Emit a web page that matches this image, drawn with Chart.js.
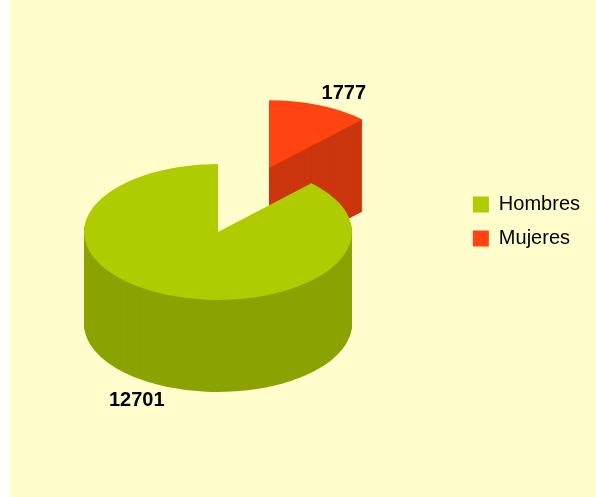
<!DOCTYPE html>
<html lang="es">
<head>
  <meta charset="UTF-8" />
  <title>Hombres y Mujeres</title>
  <script src="https://cdn.jsdelivr.net/npm/chart.js"></script>
  <style>
    body { margin: 0; background: #fff; }
    .grafico { width: 596px; height: 497px; }
  </style>
</head>
<body>
  <div class="grafico"><canvas id="graficoTarta"></canvas></div>

  <script>
    const categorias = ["Hombres", "Mujeres"];
    const valores = [12701, 1777];
    const colores = ["#aecc00", "#ff4411"];
    const separacion = [0, 136]; // cuánto se aparta cada porción

    const inclinacion = 0.507; // aplastado vertical de la tarta
    const grosor = 92;         // altura del lateral
    const centro = { x: 218, y: 232 };

    // Mujeres empieza arriba y va en sentido horario, Hombres a continuación
    const total = valores.reduce((a, b) => a + b, 0);
    const giro = 360 * valores[1] / total;

    // traslación para dibujar una porción (con su separación) en perspectiva
    function desplazamiento(arc, i) {
      const h = (arc.startAngle + arc.endAngle) / 2;
      const ex = separacion[i] * Math.cos(h);
      const ey = separacion[i] * Math.sin(h);
      return {
        x: centro.x + ex - arc.x,
        y: centro.y + inclinacion * (ey - arc.y)
      };
    }

    const tarta3d = {
      id: 'tarta3d',
      beforeDraw(chart) {
        const ctx = chart.ctx;
        ctx.save();
        ctx.fillStyle = '#fffdcc';
        ctx.fillRect(10, 0, chart.width - 10, chart.height);
        ctx.restore();
      },
      beforeDatasetsDraw(chart) {
        const ctx = chart.ctx;
        const arcs = chart.getDatasetMeta(0).data;
        for (const i of [1, 0]) {
          const arc = arcs[i];
          const d = desplazamiento(arc, i);
          ctx.save();
          ctx.filter = 'brightness(0.8)';
          for (let z = grosor; z > 0; z--) {
            ctx.save();
            ctx.translate(d.x, d.y + z);
            ctx.scale(1, inclinacion);
            arc.draw(ctx);
            ctx.restore();
          }
          ctx.filter = 'none';
          ctx.translate(d.x, d.y);
          ctx.scale(1, inclinacion);
          arc.draw(ctx);
          ctx.restore();
        }
        return false;
      },
      afterDraw(chart) {
        const ctx = chart.ctx;
        const arcs = chart.getDatasetMeta(0).data;
        ctx.save();
        ctx.font = 'bold 20px "Liberation Sans", Arial, sans-serif';
        ctx.fillStyle = '#000';
        arcs.forEach((arc, i) => {
          const d = desplazamiento(arc, i);
          const h = (arc.startAngle + arc.endAngle) / 2;
          const c = Math.cos(h), s = Math.sin(h);
          const x = d.x + arc.x + arc.outerRadius * c;
          let y = d.y + inclinacion * (arc.y + arc.outerRadius * s);
          if (s > 0) y += grosor;
          ctx.textAlign = c >= 0 ? 'left' : 'right';
          ctx.textBaseline = s >= 0 ? 'top' : 'alphabetic';
          ctx.fillText(String(valores[i]), x + (c >= 0 ? 2 : -3), y + (s >= 0 ? 4 : -6));
        });
        ctx.restore();
      }
    };

    new Chart(document.getElementById('graficoTarta'), {
      type: 'pie',
      data: {
        labels: categorias,
        datasets: [{
          data: valores,
          backgroundColor: colores,
          borderWidth: 0,
          hoverOffset: 0,
          clip: false
        }]
      },
      options: {
        responsive: true,
        maintainAspectRatio: false,
        animation: false,
        radius: 134,
        rotation: giro,
        layout: { padding: { right: 6, bottom: 54 } },
        plugins: {
          legend: {
            position: 'right',
            labels: {
              boxWidth: 16,
              boxHeight: 16,
              padding: 14,
              color: '#000',
              font: { size: 20, family: '"Liberation Sans", Arial, sans-serif' }
            }
          },
          tooltip: { enabled: false }
        }
      },
      plugins: [tarta3d]
    });
  </script>
</body>
</html>
